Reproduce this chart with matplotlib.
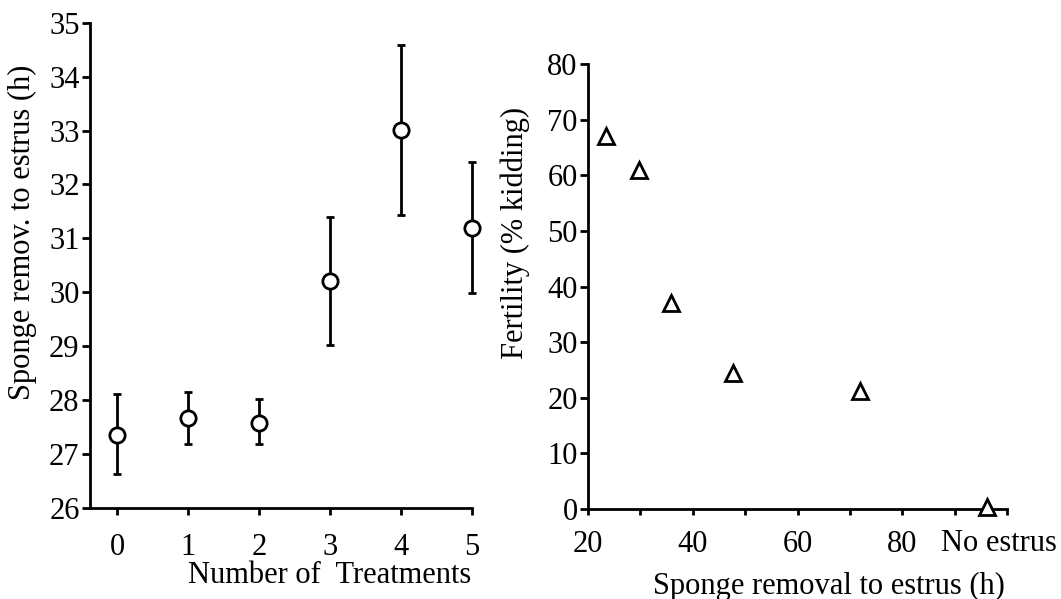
import matplotlib
matplotlib.use("Agg")
import matplotlib.pyplot as plt

plt.rcParams['font.family'] = ['Liberation Serif', 'DejaVu Serif']

# ---- Data ----
treatments = [0, 1, 2, 3, 4, 5]
interval_mean = [27.36, 27.67, 27.58, 30.21, 33.01, 31.19]
interval_err_low = [0.73, 0.49, 0.40, 1.19, 1.57, 1.20]
interval_err_high = [0.76, 0.49, 0.45, 1.19, 1.58, 1.22]

removal_to_estrus = [23.4, 29.7, 35.8, 47.7, 71.9, 96.2]
fertility = [67.1, 60.9, 37.1, 24.4, 21.3, 0.3]

left_yticks = [26, 27, 28, 29, 30, 31, 32, 33, 34, 35]
right_yticks = [0, 10, 20, 30, 40, 50, 60, 70, 80]
right_xticks = [20, 30, 40, 50, 60, 70, 80, 90, 100]
right_xticklabels = ['20', '', '40', '', '60', '', '80', '', '']
no_estrus_label = 'No estrus'
no_estrus_pos = 98.5

W, H = 1061, 599
FS = 22
LW = 2.0

fig = plt.figure(figsize=(W / 100, H / 100), dpi=100)
fig.patch.set_facecolor('white')

def fx(px):
    return px / W

def fy(py):
    return 1 - py / H

# ---- Left panel ----
axL = fig.add_axes([fx(90), fy(508), fx(472) - fx(90), fy(22.7) - fy(508)])
axL.errorbar(treatments, interval_mean,
             yerr=[interval_err_low, interval_err_high],
             fmt='o', ms=11, mfc='white', mec='black', mew=LW,
             ecolor='black', elinewidth=LW, capsize=3.2, capthick=LW,
             clip_on=False, zorder=3)
axL.set_xlim(-0.38, 5.0)
axL.set_ylim(26, 35)
axL.set_xticks(treatments)
axL.set_yticks(left_yticks)

# ---- Right panel ----
axR = fig.add_axes([fx(588), fy(509), fx(1007) - fx(588), fy(64) - fy(509)])
axR.plot(removal_to_estrus, fertility, linestyle='none', marker='^', ms=11,
         mfc='white', mec='black', mew=LW, clip_on=False, zorder=3)
axR.set_xlim(20, 100)
axR.set_ylim(0, 80)
axR.set_xticks(right_xticks)
axR.set_xticklabels(right_xticklabels)
axR.set_yticks(right_yticks)
axR.annotate(no_estrus_label, xy=(no_estrus_pos, 0),
             xycoords=('data', 'axes fraction'),
             xytext=(0, -14.4), textcoords='offset points',
             ha='center', va='top', fontsize=FS)

for ax in (axL, axR):
    for side in ('top', 'right'):
        ax.spines[side].set_visible(False)
    for side in ('left', 'bottom'):
        ax.spines[side].set_linewidth(LW)
    ax.tick_params(axis='both', direction='out', width=LW, labelsize=FS,
                   color='black', labelcolor='black')
    ax.tick_params(axis='y', length=6, pad=1.5)
    ax.patch.set_alpha(0)

axL.tick_params(axis='x', length=5, pad=13)
axR.tick_params(axis='x', length=4, pad=11)

# ---- Axis labels ----
axL.set_xlabel('Number of  Treatments', fontsize=FS)
axL.xaxis.set_label_coords(fx(330), fy(561), transform=fig.transFigure)
axL.set_ylabel('Sponge remov. to estrus (h)', fontsize=FS)
axL.yaxis.set_label_coords(fx(37.5), fy(232), transform=fig.transFigure)

axR.set_xlabel('Sponge removal to estrus (h)', fontsize=FS)
axR.xaxis.set_label_coords(fx(828.5), fy(572), transform=fig.transFigure)
axR.set_ylabel('Fertility (% kidding)', fontsize=FS)
axR.yaxis.set_label_coords(fx(530), fy(233), transform=fig.transFigure)

fig.savefig('out.png', dpi=100, facecolor='white')
